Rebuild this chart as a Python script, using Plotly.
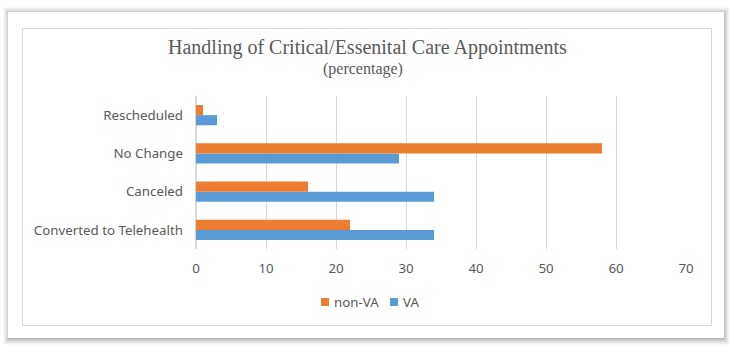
import plotly.graph_objects as go

# Appointment handling categories (bottom to top on the chart)
categories = ["Converted to Telehealth", "Canceled", "No Change", "Rescheduled"]
va_values = [34, 34, 29, 3]
non_va_values = [22, 16, 58, 1]
x_ticks = [0, 10, 20, 30, 40, 50, 60, 70]

VA_COLOR = "#5B9BD5"
NON_VA_COLOR = "#ED7D31"
TEXT_COLOR = "#595959"

W, H = 732, 347
L, R, T, B = 196, 686, 96, 249  # plot area in pixels


def px(x):
    return (x - L) / (R - L)


def py(y):
    return (B - y) / (B - T)


fig = go.Figure()
fig.add_trace(go.Bar(
    y=categories, x=va_values, name="VA", orientation="h",
    marker=dict(color=VA_COLOR, line=dict(width=0)),
))
fig.add_trace(go.Bar(
    y=categories, x=non_va_values, name="non-VA", orientation="h",
    marker=dict(color=NON_VA_COLOR, line=dict(width=0)),
))

shapes = []
# soft drop shadow around the card
for i, op in enumerate([0.025, 0.03, 0.035, 0.045, 0.055, 0.065, 0.075]):
    d = 7 - i
    shapes.append(dict(type="rect", xref="paper", yref="paper",
                       x0=px(8 - d + 2), x1=px(724 + d - 1), y0=py(12 - d + 2), y1=py(338 + d),
                       fillcolor=f"rgba(0,0,0,{op})", line=dict(width=0), layer="below"))
# white card
shapes.append(dict(type="rect", xref="paper", yref="paper",
                   x0=px(8), x1=px(724), y0=py(12), y1=py(338),
                   fillcolor="white", line=dict(width=0), layer="below"))
# chart frame
shapes.append(dict(type="rect", xref="paper", yref="paper",
                   x0=px(22.5), x1=px(711.5), y0=py(28.5), y1=py(325.5),
                   fillcolor="rgba(0,0,0,0)", line=dict(color="#D9D9D9", width=1), layer="below"))

annotations = [
    dict(text="Handling of Critical/Essenital Care Appointments", xref="paper", yref="paper",
         x=px(367), y=py(47), showarrow=False, xanchor="center", yanchor="middle",
         font=dict(family="Liberation Serif", size=20, color=TEXT_COLOR)),
    dict(text="(percentage)", xref="paper", yref="paper",
         x=px(363), y=py(69), showarrow=False, xanchor="center", yanchor="middle",
         font=dict(family="Liberation Serif", size=16, color=TEXT_COLOR)),
]

# compact legend: colour key squares with labels
legend_items = [("non-VA", NON_VA_COLOR, 321), ("VA", VA_COLOR, 390)]
for label, color, x0 in legend_items:
    shapes.append(dict(type="rect", xref="paper", yref="paper",
                       x0=px(x0), x1=px(x0 + 8), y0=py(298), y1=py(306),
                       fillcolor=color, line=dict(width=0)))
    annotations.append(dict(text=label, xref="paper", yref="paper",
                            x=px(x0 + 11), y=py(302), showarrow=False,
                            xanchor="left", yanchor="middle",
                            font=dict(family="Noto Sans", size=13.3, color=TEXT_COLOR)))

fig.update_layout(
    width=W, height=H,
    margin=dict(l=L, r=W - R, t=T, b=H - B),
    paper_bgcolor="white", plot_bgcolor="rgba(0,0,0,0)",
    barmode="group", bargap=0.47, bargroupgap=0,
    shapes=shapes, annotations=annotations,
    showlegend=False,
    font=dict(family="Noto Sans", size=13.3, color=TEXT_COLOR),
)
fig.update_xaxes(range=[0, 70], tickvals=x_ticks, showgrid=True, gridcolor="#D9D9D9", gridwidth=1,
                 zeroline=True, zerolinecolor="#D9D9D9", showline=False, ticks="",
                 ticklabelstandoff=10, tickfont=dict(family="Noto Sans", size=13.3, color=TEXT_COLOR))
fig.update_yaxes(showgrid=False, zeroline=False, showline=False, ticks="",
                 ticklabelstandoff=12, tickfont=dict(family="Noto Sans", size=13.3, color=TEXT_COLOR))

fig.write_html("out.html")
